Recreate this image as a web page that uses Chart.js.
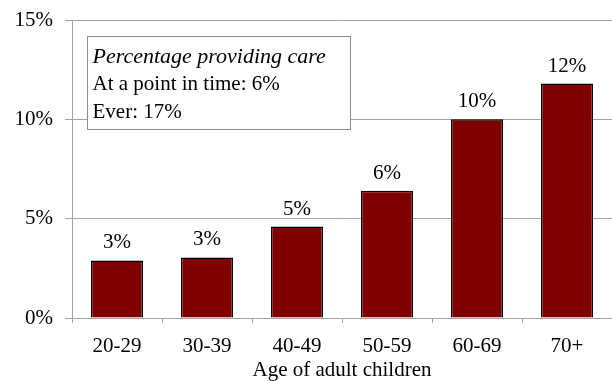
<!DOCTYPE html>
<html>
<head>
<meta charset="utf-8">
<script src="https://cdn.jsdelivr.net/npm/chart.js@4/dist/chart.umd.min.js"></script>
<style>
  html, body { margin: 0; padding: 0; background: #fff; }
  #wrap { width: 612px; height: 381px; }
</style>
</head>
<body>
<div id="wrap"><canvas id="c" width="612" height="381"></canvas></div>
<script>
// Share of adult children providing care, by age group (percent)
const categories = ['20-29', '30-39', '40-49', '50-59', '60-69', '70+'];
const careShare = [2.9, 3.05, 4.6, 6.4, 10.0, 11.8];
const yTicks = [0, 5, 10, 15];
const noteTitle = 'Percentage providing care';
const noteLines = ['At a point in time: 6%', 'Ever: 17%'];
const axisTitle = 'Age of adult children';

const FONT = '"Liberation Serif", "Times New Roman", serif';
const GRID = '#a3a3a3';

// value labels above each bar
const barLabels = {
  id: 'barLabels',
  afterDatasetsDraw(chart) {
    const ctx = chart.ctx;
    const meta = chart.getDatasetMeta(0);
    ctx.save();
    ctx.font = '21px ' + FONT;
    ctx.fillStyle = '#000';
    ctx.textAlign = 'center';
    ctx.textBaseline = 'alphabetic';
    meta.data.forEach((bar, i) => {
      ctx.fillText(Math.round(careShare[i]) + '%', bar.x, bar.y - 12);
    });
    ctx.restore();
  }
};

// boxed note in the upper-left of the plot
const noteBox = {
  id: 'noteBox',
  afterDatasetsDraw(chart) {
    const { ctx, chartArea } = chart;
    const x = Math.round(chartArea.left) + 15.5, y = Math.round(chartArea.top) + 16.5;
    const w = 263, h = 93;
    ctx.save();
    ctx.fillStyle = '#fff';
    ctx.fillRect(x, y, w, h);
    ctx.strokeStyle = '#8c8c8c';
    ctx.lineWidth = 1;
    ctx.strokeRect(x, y, w, h);
    ctx.fillStyle = '#000';
    ctx.textAlign = 'left';
    ctx.textBaseline = 'alphabetic';
    ctx.font = 'italic 22px ' + FONT;
    ctx.fillText(noteTitle, x + 5, y + 26);
    ctx.font = '21px ' + FONT;
    noteLines.forEach((t, i) => ctx.fillText(t, x + 5, y + 53 + i * 28));
    ctx.restore();
  }
};

new Chart(document.getElementById('c'), {
  type: 'bar',
  data: {
    labels: categories,
    datasets: [{
      data: careShare,
      backgroundColor: '#800000',
      borderColor: '#000000',
      borderWidth: 1.5,
      borderSkipped: 'bottom',
      categoryPercentage: 0.58,
      barPercentage: 1.0
    }]
  },
  options: {
    responsive: false,
    animation: false,
    devicePixelRatio: 1,
    layout: { padding: { top: 20, right: 0, bottom: 0, left: 0 } },
    plugins: {
      legend: { display: false },
      tooltip: { enabled: false }
    },
    scales: {
      x: {
        grid: {
          offset: true,
          drawOnChartArea: false,
          color: GRID,
          tickLength: 5
        },
        border: { color: GRID, width: 1 },
        ticks: {
          color: '#000',
          font: { family: FONT, size: 21 },
          padding: 11,
          maxRotation: 0
        },
        title: {
          display: true,
          text: axisTitle,
          color: '#000',
          font: { family: FONT, size: 21, lineHeight: 1 },
          padding: { top: 0, bottom: 0 }
        },
        afterFit(scale) { scale.height = 63; }
      },
      y: {
        min: 0,
        max: 15,
        afterBuildTicks(scale) { scale.ticks = yTicks.map(v => ({ value: v })); },
        grid: {
          color: GRID,
          tickLength: 7
        },
        border: { color: GRID, width: 1 },
        ticks: {
          color: '#000',
          font: { family: FONT, size: 21 },
          padding: 12,
          callback: v => v + '%'
        },
        afterFit(scale) {
          scale.width = 72;
          scale.paddingTop = 0;
          scale.paddingBottom = 0;
        }
      }
    }
  },
  plugins: [barLabels, noteBox]
});
</script>
</body>
</html>
